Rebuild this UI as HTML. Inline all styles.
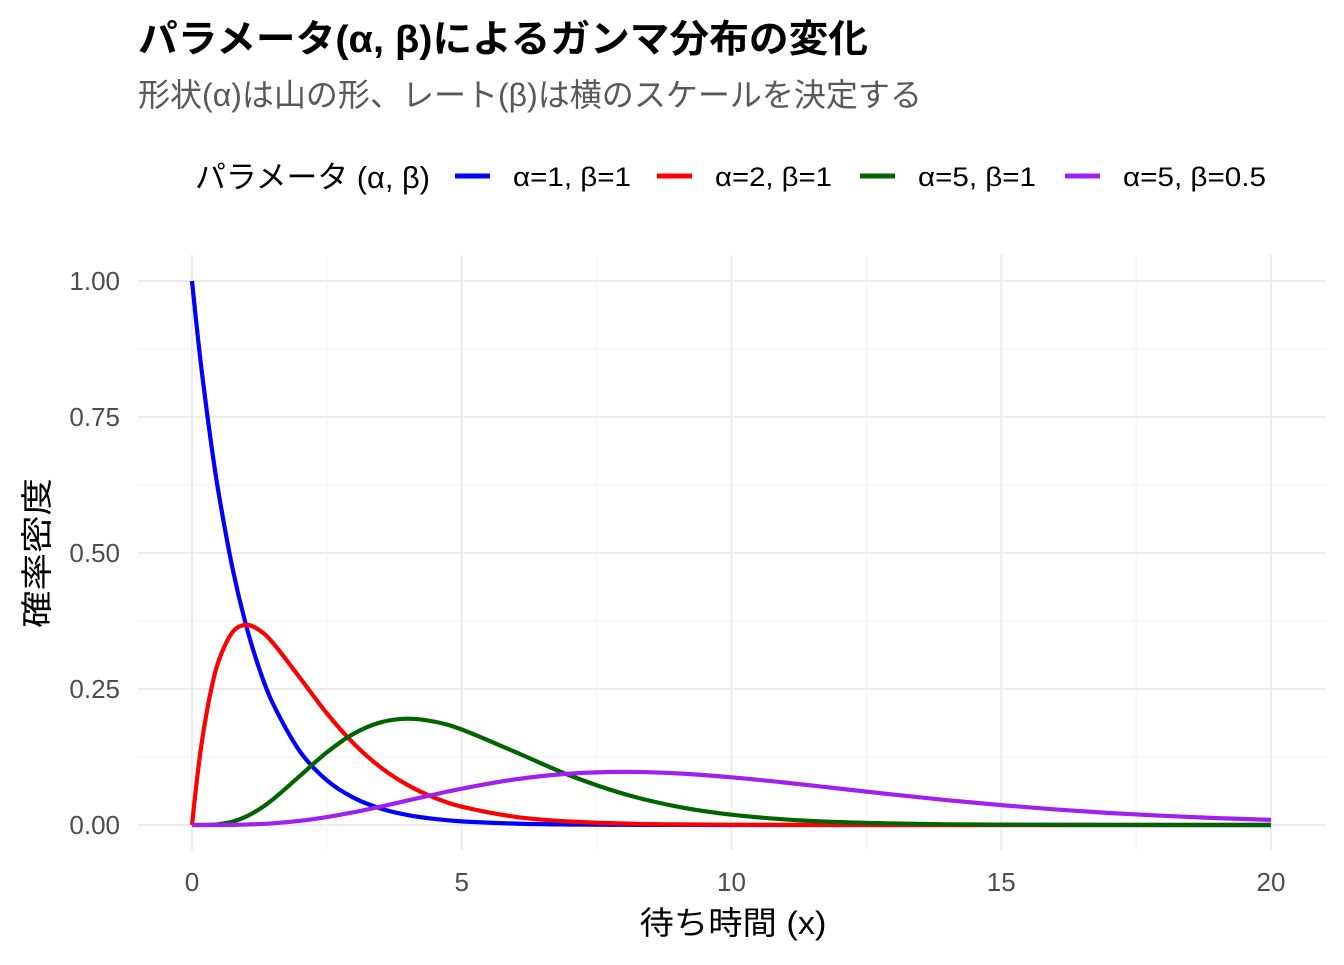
<!DOCTYPE html>
<html><head><meta charset="utf-8"><style>
body{margin:0;background:#fff;width:1344px;height:960px;overflow:hidden}
svg text{font-family:"Liberation Sans","Noto Sans CJK JP",sans-serif}
</style></head><body>
<svg id="chart" width="1344" height="960">
<text x="138" y="52" font-size="38" font-weight="bold" fill="#000" textLength="730" lengthAdjust="spacingAndGlyphs">パラメータ(α, β)によるガンマ分布の変化</text>
<text x="138" y="106" font-size="32" fill="#595959" textLength="784" lengthAdjust="spacingAndGlyphs">形状(α)は山の形、レート(β)は横のスケールを決定する</text>
<g id="legend">
<text x="195" y="188" font-size="31" fill="#000" textLength="235" lengthAdjust="spacingAndGlyphs">パラメータ (α, β)</text>
</g>
<g id="grid"></g>
<g id="series"></g>
<text transform="translate(48,553) rotate(-90)" text-anchor="middle" font-size="32" fill="#000" textLength="150" lengthAdjust="spacingAndGlyphs">確率密度</text>
<text x="733" y="934" text-anchor="middle" font-size="32" fill="#000" textLength="187" lengthAdjust="spacingAndGlyphs">待ち時間 (x)</text>
</svg>
<script>
const xs=[0,0.1,0.2,0.35,0.5,0.75,1,1.25,1.5,2,2.5,3,3.5,4,4.5,5,6,7,8,9,10,11,12,13,14,15,16,17,18,19,20];
const s1=[1,.9048,.8187,.7047,.6065,.4724,.3679,.2865,.2231,.1353,.0821,.0498,.0302,.0183,.0111,.0067,.0025,.0009,.0003,.0001,0,0,0,0,0,0,0,0,0,0,0];
const s2=[0,.0905,.1637,.2466,.3033,.3543,.3679,.3581,.3347,.2707,.2052,.1494,.1057,.0733,.05,.0337,.0149,.0064,.0027,.0011,.0005,.0002,.0001,0,0,0,0,0,0,0,0];
const s3=[0,0,.00005,.00044,.00158,.00623,.01533,.02914,.04707,.0902,.1336,.168,.1888,.1954,.1898,.1755,.1339,.0912,.0573,.0337,.0189,.0102,.0053,.0027,.0013,.00065,.0003,.00014,.00006,.00003,.00001];
const s4=[0,0,0,.00002,.00006,.00028,.00079,.0017,.00311,.00766,.01457,.02353,.03396,.0451,.05627,.0668,.084,.0944,.0977,.0949,.0877,.0779,.0669,.0559,.0456,.0365,.0286,.0221,.0169,.0127,.00946];
const seriesNames=["α=1, β=1","α=2, β=1","α=5, β=1","α=5, β=0.5"];
const colors=["#0000ff","#ff0000","#006400","#a020f0"];
const xTicks=[0,5,10,15,20];
const yTicks=[0,0.25,0.5,0.75,1];
const yLabels=["0.00","0.25","0.50","0.75","1.00"];
const X=v=>192+v*(1271-192)/20, Y=v=>825-v*544;
const NS="http://www.w3.org/2000/svg";
function mk(tag,attrs,parent){const e=document.createElementNS(NS,tag);for(const k in attrs)e.setAttribute(k,attrs[k]);parent.appendChild(e);return e;}
const grid=document.getElementById('grid');
for(let i=0;i<yTicks.length;i++){
  if(i<yTicks.length-1){const m=(yTicks[i]+yTicks[i+1])/2;const g=mk('line',{x1:138,x2:1325,y1:Y(m),y2:Y(m),stroke:'#f2f2f2','stroke-width':1},grid);
  
  }
  const l=mk('line',{x1:138,x2:1325,y1:Y(yTicks[i]),y2:Y(yTicks[i]),stroke:'#ebebeb','stroke-width':2},grid);
  
  
  const t=mk('text',{x:120,y:Y(yTicks[i])+9,'text-anchor':'end','font-size':26,fill:'#4d4d4d'},grid);
  
  
  t.textContent=yLabels[i];
}
for(let i=0;i<xTicks.length;i++){
  if(i<xTicks.length-1){const m=(xTicks[i]+xTicks[i+1])/2;const g=mk('line',{x1:X(m),x2:X(m),y1:255,y2:850,stroke:'#f2f2f2','stroke-width':1},grid);
  
  }
  const l=mk('line',{x1:X(xTicks[i]),x2:X(xTicks[i]),y1:255,y2:850,stroke:'#ebebeb','stroke-width':2},grid);
  
  
  const t=mk('text',{x:X(xTicks[i]),y:891,'text-anchor':'middle','font-size':26,fill:'#4d4d4d'},grid);
  
  
  t.textContent=xTicks[i];
}
function pathFor(vals){
  const p=xs.map((x,i)=>[X(x),Y(vals[i])]);
  let d=`M${p[0][0]},${p[0][1]}`;
  for(let i=0;i<p.length-1;i++){
    const p0=p[Math.max(0,i-1)],p1=p[i],p2=p[i+1],p3=p[Math.min(p.length-1,i+2)];
    const c1=[p1[0]+(p2[0]-p0[0])/6,p1[1]+(p2[1]-p0[1])/6],c2=[p2[0]-(p3[0]-p1[0])/6,p2[1]-(p3[1]-p1[1])/6];
    d+=`C${c1[0]},${c1[1]} ${c2[0]},${c2[1]} ${p2[0]},${p2[1]}`;
  }
  return d;
}
const sg=document.getElementById('series');
[s1,s2,s3,s4].forEach((s,i)=>{
  const p=mk('path',{d:pathFor(s),fill:'none',stroke:colors[i],'stroke-width':4.2,'stroke-linejoin':'round'},sg);
  
  
});
const lg=document.getElementById('legend');
const lx=[455,657,860,1065];
const lw=[118,117,118,143];
seriesNames.forEach((n,i)=>{
  const l=mk('line',{x1:lx[i],x2:lx[i]+35,y1:176,y2:176,stroke:colors[i],'stroke-width':5},lg);
  
  
  const t=mk('text',{x:lx[i]+58,y:186,'font-size':27,fill:'#000',textLength:lw[i],lengthAdjust:'spacingAndGlyphs'},lg);
  
  
  t.textContent=n;
});
</script>
</body></html>
